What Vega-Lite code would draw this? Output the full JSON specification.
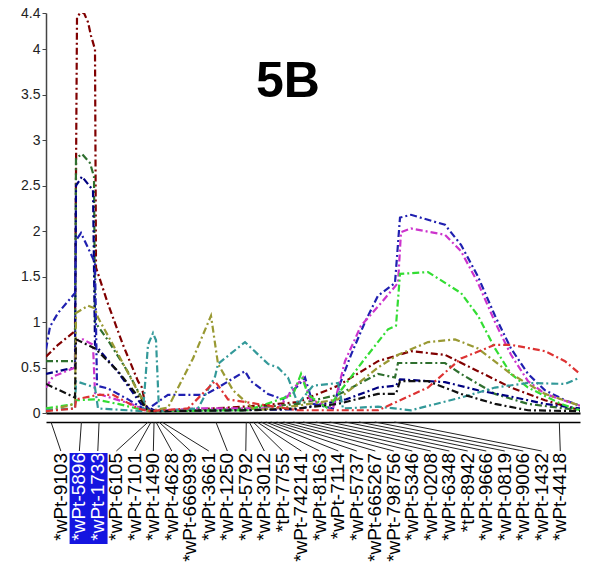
{
  "$schema": "https://vega.github.io/schema/vega-lite/v6.json",
  "background": "white",
  "padding": {"left": 20, "top": 6, "right": 5, "bottom": 2},
  "config": {"view": {"stroke": null}},
  "spacing": 1,
  "datasets": {
    "curves": [
      {"series": "A", "pos": 0, "lod": 0.62}, {"series": "A", "pos": 12, "lod": 0.75}, {"series": "A", "pos": 29, "lod": 0.9}, {"series": "A", "pos": 31, "lod": 4.35}, {"series": "A", "pos": 34, "lod": 4.4}, {"series": "A", "pos": 38, "lod": 4.4}, {"series": "A", "pos": 42, "lod": 4.3}, {"series": "A", "pos": 45, "lod": 4.15}, {"series": "A", "pos": 49, "lod": 4.0}, {"series": "A", "pos": 50, "lod": 1.6}, {"series": "A", "pos": 62, "lod": 1.2}, {"series": "A", "pos": 77, "lod": 0.75}, {"series": "A", "pos": 92, "lod": 0.35}, {"series": "A", "pos": 96, "lod": 0.28}, {"series": "A", "pos": 99, "lod": 0.1}, {"series": "A", "pos": 104, "lod": 0.02}, {"series": "A", "pos": 152, "lod": 0.04}, {"series": "A", "pos": 212, "lod": 0.08}, {"series": "A", "pos": 252, "lod": 0.12}, {"series": "A", "pos": 292, "lod": 0.3}, {"series": "A", "pos": 332, "lod": 0.57}, {"series": "A", "pos": 365, "lod": 0.68}, {"series": "A", "pos": 399, "lod": 0.64}, {"series": "A", "pos": 432, "lod": 0.46}, {"series": "A", "pos": 465, "lod": 0.28}, {"series": "A", "pos": 499, "lod": 0.14}, {"series": "A", "pos": 534, "lod": 0.03},

      {"series": "B", "pos": 0, "lod": 0.57}, {"series": "B", "pos": 29, "lod": 0.57}, {"series": "B", "pos": 30, "lod": 2.8}, {"series": "B", "pos": 36, "lod": 2.85}, {"series": "B", "pos": 44, "lod": 2.75}, {"series": "B", "pos": 48, "lod": 2.6}, {"series": "B", "pos": 49, "lod": 1.0}, {"series": "B", "pos": 62, "lod": 0.8}, {"series": "B", "pos": 82, "lod": 0.45}, {"series": "B", "pos": 102, "lod": 0.03}, {"series": "B", "pos": 152, "lod": 0.03}, {"series": "B", "pos": 202, "lod": 0.05}, {"series": "B", "pos": 252, "lod": 0.1}, {"series": "B", "pos": 292, "lod": 0.2}, {"series": "B", "pos": 332, "lod": 0.43}, {"series": "B", "pos": 349, "lod": 0.39}, {"series": "B", "pos": 352, "lod": 0.55}, {"series": "B", "pos": 399, "lod": 0.55}, {"series": "B", "pos": 415, "lod": 0.43}, {"series": "B", "pos": 449, "lod": 0.21}, {"series": "B", "pos": 482, "lod": 0.1}, {"series": "B", "pos": 534, "lod": 0.03},

      {"series": "C", "pos": 0, "lod": 0.43}, {"series": "C", "pos": 29, "lod": 0.5}, {"series": "C", "pos": 30, "lod": 2.5}, {"series": "C", "pos": 36, "lod": 2.6}, {"series": "C", "pos": 47, "lod": 2.45}, {"series": "C", "pos": 49, "lod": 0.75}, {"series": "C", "pos": 72, "lod": 0.45}, {"series": "C", "pos": 95, "lod": 0.1}, {"series": "C", "pos": 110, "lod": 0.02}, {"series": "C", "pos": 250, "lod": 0.04}, {"series": "C", "pos": 300, "lod": 0.15}, {"series": "C", "pos": 332, "lod": 0.28}, {"series": "C", "pos": 350, "lod": 0.3}, {"series": "C", "pos": 354, "lod": 0.37}, {"series": "C", "pos": 399, "lod": 0.34}, {"series": "C", "pos": 432, "lod": 0.25}, {"series": "C", "pos": 465, "lod": 0.18}, {"series": "C", "pos": 499, "lod": 0.1}, {"series": "C", "pos": 534, "lod": 0.05},

      {"series": "D", "pos": 0, "lod": 0.7}, {"series": "D", "pos": 4, "lod": 0.95}, {"series": "D", "pos": 12, "lod": 1.1}, {"series": "D", "pos": 29, "lod": 1.32}, {"series": "D", "pos": 30, "lod": 1.9}, {"series": "D", "pos": 35, "lod": 1.98}, {"series": "D", "pos": 47, "lod": 1.7}, {"series": "D", "pos": 49, "lod": 1.65}, {"series": "D", "pos": 51, "lod": 0.3}, {"series": "D", "pos": 62, "lod": 0.27}, {"series": "D", "pos": 82, "lod": 0.15}, {"series": "D", "pos": 100, "lod": 0.03}, {"series": "D", "pos": 122, "lod": 0.2}, {"series": "D", "pos": 159, "lod": 0.2}, {"series": "D", "pos": 172, "lod": 0.28}, {"series": "D", "pos": 199, "lod": 0.46}, {"series": "D", "pos": 205, "lod": 0.35}, {"series": "D", "pos": 222, "lod": 0.21}, {"series": "D", "pos": 237, "lod": 0.15}, {"series": "D", "pos": 252, "lod": 0.3}, {"series": "D", "pos": 259, "lod": 0.39}, {"series": "D", "pos": 267, "lod": 0.1}, {"series": "D", "pos": 287, "lod": 0.05}, {"series": "D", "pos": 294, "lod": 0.32}, {"series": "D", "pos": 305, "lod": 0.64}, {"series": "D", "pos": 319, "lod": 1.0}, {"series": "D", "pos": 332, "lod": 1.29}, {"series": "D", "pos": 349, "lod": 1.43}, {"series": "D", "pos": 354, "lod": 2.15}, {"series": "D", "pos": 365, "lod": 2.18}, {"series": "D", "pos": 399, "lod": 2.07}, {"series": "D", "pos": 415, "lod": 1.85}, {"series": "D", "pos": 432, "lod": 1.5}, {"series": "D", "pos": 449, "lod": 1.07}, {"series": "D", "pos": 465, "lod": 0.71}, {"series": "D", "pos": 482, "lod": 0.43}, {"series": "D", "pos": 499, "lod": 0.25}, {"series": "D", "pos": 519, "lod": 0.14}, {"series": "D", "pos": 534, "lod": 0.08},

      {"series": "E", "pos": 0, "lod": 0.28}, {"series": "E", "pos": 7, "lod": 0.4}, {"series": "E", "pos": 29, "lod": 0.5}, {"series": "E", "pos": 30, "lod": 0.8}, {"series": "E", "pos": 37, "lod": 0.81}, {"series": "E", "pos": 47, "lod": 0.75}, {"series": "E", "pos": 49, "lod": 0.22}, {"series": "E", "pos": 85, "lod": 0.1}, {"series": "E", "pos": 102, "lod": 0.02}, {"series": "E", "pos": 152, "lod": 0.05}, {"series": "E", "pos": 232, "lod": 0.05}, {"series": "E", "pos": 250, "lod": 0.3}, {"series": "E", "pos": 257, "lod": 0.39}, {"series": "E", "pos": 264, "lod": 0.15}, {"series": "E", "pos": 287, "lod": 0.05}, {"series": "E", "pos": 294, "lod": 0.35}, {"series": "E", "pos": 299, "lod": 0.57}, {"series": "E", "pos": 315, "lod": 0.96}, {"series": "E", "pos": 335, "lod": 1.21}, {"series": "E", "pos": 352, "lod": 1.43}, {"series": "E", "pos": 355, "lod": 1.99}, {"series": "E", "pos": 365, "lod": 2.03}, {"series": "E", "pos": 399, "lod": 1.96}, {"series": "E", "pos": 415, "lod": 1.78}, {"series": "E", "pos": 432, "lod": 1.43}, {"series": "E", "pos": 449, "lod": 1.0}, {"series": "E", "pos": 465, "lod": 0.64}, {"series": "E", "pos": 482, "lod": 0.35}, {"series": "E", "pos": 499, "lod": 0.21}, {"series": "E", "pos": 534, "lod": 0.08},

      {"series": "F", "pos": 0, "lod": 0.05}, {"series": "F", "pos": 29, "lod": 0.1}, {"series": "F", "pos": 30, "lod": 0.14}, {"series": "F", "pos": 49, "lod": 0.15}, {"series": "F", "pos": 72, "lod": 0.1}, {"series": "F", "pos": 102, "lod": 0.02}, {"series": "F", "pos": 202, "lod": 0.03}, {"series": "F", "pos": 247, "lod": 0.2}, {"series": "F", "pos": 255, "lod": 0.43}, {"series": "F", "pos": 262, "lod": 0.2}, {"series": "F", "pos": 282, "lod": 0.05}, {"series": "F", "pos": 295, "lod": 0.25}, {"series": "F", "pos": 319, "lod": 0.6}, {"series": "F", "pos": 342, "lod": 0.92}, {"series": "F", "pos": 350, "lod": 0.96}, {"series": "F", "pos": 354, "lod": 1.53}, {"series": "F", "pos": 382, "lod": 1.55}, {"series": "F", "pos": 415, "lod": 1.32}, {"series": "F", "pos": 432, "lod": 1.07}, {"series": "F", "pos": 449, "lod": 0.71}, {"series": "F", "pos": 465, "lod": 0.43}, {"series": "F", "pos": 482, "lod": 0.28}, {"series": "F", "pos": 515, "lod": 0.1}, {"series": "F", "pos": 534, "lod": 0.03},

      {"series": "G", "pos": 0, "lod": 0.02}, {"series": "G", "pos": 29, "lod": 0.1}, {"series": "G", "pos": 30, "lod": 1.1}, {"series": "G", "pos": 42, "lod": 1.18}, {"series": "G", "pos": 49, "lod": 1.15}, {"series": "G", "pos": 52, "lod": 1.05}, {"series": "G", "pos": 72, "lod": 0.65}, {"series": "G", "pos": 95, "lod": 0.17}, {"series": "G", "pos": 102, "lod": 0.02}, {"series": "G", "pos": 122, "lod": 0.06}, {"series": "G", "pos": 147, "lod": 0.6}, {"series": "G", "pos": 165, "lod": 1.07}, {"series": "G", "pos": 172, "lod": 0.54}, {"series": "G", "pos": 187, "lod": 0.25}, {"series": "G", "pos": 209, "lod": 0.03}, {"series": "G", "pos": 252, "lod": 0.08}, {"series": "G", "pos": 292, "lod": 0.15}, {"series": "G", "pos": 332, "lod": 0.5}, {"series": "G", "pos": 352, "lod": 0.64}, {"series": "G", "pos": 382, "lod": 0.78}, {"series": "G", "pos": 409, "lod": 0.81}, {"series": "G", "pos": 432, "lod": 0.71}, {"series": "G", "pos": 465, "lod": 0.43}, {"series": "G", "pos": 499, "lod": 0.21}, {"series": "G", "pos": 534, "lod": 0.08},

      {"series": "H", "pos": 0, "lod": 0.03}, {"series": "H", "pos": 29, "lod": 0.05}, {"series": "H", "pos": 30, "lod": 0.35}, {"series": "H", "pos": 49, "lod": 0.28}, {"series": "H", "pos": 52, "lod": 0.05}, {"series": "H", "pos": 97, "lod": 0.02}, {"series": "H", "pos": 102, "lod": 0.75}, {"series": "H", "pos": 107, "lod": 0.88}, {"series": "H", "pos": 110, "lod": 0.8}, {"series": "H", "pos": 113, "lod": 0.02}, {"series": "H", "pos": 152, "lod": 0.05}, {"series": "H", "pos": 169, "lod": 0.4}, {"series": "H", "pos": 172, "lod": 0.54}, {"series": "H", "pos": 199, "lod": 0.78}, {"series": "H", "pos": 222, "lod": 0.54}, {"series": "H", "pos": 232, "lod": 0.5}, {"series": "H", "pos": 242, "lod": 0.39}, {"series": "H", "pos": 252, "lod": 0.1}, {"series": "H", "pos": 267, "lod": 0.3}, {"series": "H", "pos": 292, "lod": 0.33}, {"series": "H", "pos": 297, "lod": 0.05}, {"series": "H", "pos": 332, "lod": 0.07}, {"series": "H", "pos": 365, "lod": 0.03}, {"series": "H", "pos": 415, "lod": 0.17}, {"series": "H", "pos": 449, "lod": 0.28}, {"series": "H", "pos": 482, "lod": 0.33}, {"series": "H", "pos": 519, "lod": 0.32}, {"series": "H", "pos": 534, "lod": 0.39},

      {"series": "I", "pos": 0, "lod": 0.32}, {"series": "I", "pos": 29, "lod": 0.17}, {"series": "I", "pos": 30, "lod": 0.81}, {"series": "I", "pos": 49, "lod": 0.71}, {"series": "I", "pos": 72, "lod": 0.46}, {"series": "I", "pos": 95, "lod": 0.14}, {"series": "I", "pos": 102, "lod": 0.02}, {"series": "I", "pos": 202, "lod": 0.03}, {"series": "I", "pos": 252, "lod": 0.05}, {"series": "I", "pos": 292, "lod": 0.1}, {"series": "I", "pos": 332, "lod": 0.21}, {"series": "I", "pos": 350, "lod": 0.21}, {"series": "I", "pos": 354, "lod": 0.35}, {"series": "I", "pos": 382, "lod": 0.35}, {"series": "I", "pos": 415, "lod": 0.21}, {"series": "I", "pos": 449, "lod": 0.1}, {"series": "I", "pos": 482, "lod": 0.03}, {"series": "I", "pos": 534, "lod": 0.02},

      {"series": "J", "pos": 0, "lod": 0.02}, {"series": "J", "pos": 29, "lod": 0.05}, {"series": "J", "pos": 30, "lod": 0.15}, {"series": "J", "pos": 52, "lod": 0.2}, {"series": "J", "pos": 67, "lod": 0.2}, {"series": "J", "pos": 92, "lod": 0.05}, {"series": "J", "pos": 102, "lod": 0.02}, {"series": "J", "pos": 142, "lod": 0.05}, {"series": "J", "pos": 169, "lod": 0.35}, {"series": "J", "pos": 182, "lod": 0.15}, {"series": "J", "pos": 252, "lod": 0.03}, {"series": "J", "pos": 332, "lod": 0.03}, {"series": "J", "pos": 382, "lod": 0.28}, {"series": "J", "pos": 415, "lod": 0.6}, {"series": "J", "pos": 449, "lod": 0.75}, {"series": "J", "pos": 465, "lod": 0.75}, {"series": "J", "pos": 499, "lod": 0.68}, {"series": "J", "pos": 519, "lod": 0.57}, {"series": "J", "pos": 534, "lod": 0.43}
    ],
    "markers": [
      {"marker": "*wPt-9103", "pos": 0, "label_pos": 10, "hl": false},
      {"marker": "*wPt-5896", "pos": 31, "label_pos": 28.9, "hl": true},
      {"marker": "*wPt-1733", "pos": 49, "label_pos": 47.7, "hl": true},
      {"marker": "*wPt-6105", "pos": 99, "label_pos": 66.6, "hl": false},
      {"marker": "*wPt-7101", "pos": 102, "label_pos": 85.4, "hl": false},
      {"marker": "*wPt-1490", "pos": 105, "label_pos": 104.3, "hl": false},
      {"marker": "*wPt-4628", "pos": 107, "label_pos": 123.1, "hl": false},
      {"marker": "*wPt-666939", "pos": 110, "label_pos": 142, "hl": false},
      {"marker": "*wPt-3661", "pos": 113, "label_pos": 160.8, "hl": false},
      {"marker": "*wPt-1250", "pos": 168, "label_pos": 179.7, "hl": false},
      {"marker": "*wPt-5792", "pos": 199, "label_pos": 198.5, "hl": false},
      {"marker": "*wPt-3012", "pos": 202, "label_pos": 217.4, "hl": false},
      {"marker": "*tPt-7755", "pos": 206, "label_pos": 236.2, "hl": false},
      {"marker": "*wPt-742141", "pos": 210, "label_pos": 255.1, "hl": false},
      {"marker": "*wPt-8163", "pos": 214, "label_pos": 273.9, "hl": false},
      {"marker": "*wPt-7114", "pos": 219, "label_pos": 292.8, "hl": false},
      {"marker": "*wPt-5737", "pos": 224, "label_pos": 311.6, "hl": false},
      {"marker": "*wPt-665267", "pos": 230, "label_pos": 330.5, "hl": false},
      {"marker": "*wPt-798756", "pos": 237, "label_pos": 349.3, "hl": false},
      {"marker": "*wPt-5346", "pos": 247, "label_pos": 368.2, "hl": false},
      {"marker": "*wPt-0208", "pos": 257, "label_pos": 387, "hl": false},
      {"marker": "*wPt-6348", "pos": 270, "label_pos": 405.9, "hl": false},
      {"marker": "*tPt-8942", "pos": 284, "label_pos": 424.7, "hl": false},
      {"marker": "*wPt-9666", "pos": 300, "label_pos": 443.6, "hl": false},
      {"marker": "*wPt-0819", "pos": 314, "label_pos": 462.4, "hl": false},
      {"marker": "*wPt-9006", "pos": 330, "label_pos": 481.3, "hl": false},
      {"marker": "*wPt-1432", "pos": 350, "label_pos": 500.1, "hl": false},
      {"marker": "*wPt-4418", "pos": 518, "label_pos": 519, "hl": false}
    ]
  },
  "vconcat": [
    {
      "width": 534,
      "height": 400,
      "layer": [
        {
          "data": {"name": "curves"},
          "mark": {"type": "line", "strokeWidth": 2.2, "strokeDash": [7, 3, 2, 3], "clip": true},
          "encoding": {
            "x": {"field": "pos", "type": "quantitative", "scale": {"domain": [0, 534], "nice": false},
                  "axis": {"labels": false, "ticks": false, "title": null, "grid": false, "domainColor": "black", "domainWidth": 2}},
            "y": {"field": "lod", "type": "quantitative", "scale": {"domain": [0, 4.4], "nice": false},
                  "axis": {"values": [0, 0.5, 1, 1.5, 2, 2.5, 3, 3.5, 4, 4.4], "labelExpr": "'' + datum.value", "title": null, "grid": false,
                           "domainColor": "#444", "domainWidth": 1.5, "tickColor": "#444", "tickSize": 4,
                           "labelFont": "Liberation Sans", "labelFontSize": 14, "labelColor": "#222"}},
            "color": {"field": "series", "type": "nominal", "legend": null,
                      "scale": {"domain": ["A", "B", "C", "D", "E", "F", "G", "H", "I", "J"],
                                "range": ["#800000", "#2f6f2f", "#000080", "#2020b0", "#cc33cc", "#33dd33", "#999933", "#339999", "#111111", "#dd3333"]}},
            "detail": {"field": "series"}
          }
        },
        {
          "data": {"values": [{"t": "5B"}]},
          "mark": {"type": "text", "font": "Liberation Sans", "fontWeight": "bold", "fontSize": 50, "align": "center", "baseline": "middle", "color": "black"},
          "encoding": {
            "x": {"datum": 242, "type": "quantitative"},
            "y": {"datum": 3.64, "type": "quantitative"},
            "text": {"field": "t"}
          }
        }
      ]
    },
    {
      "width": 534,
      "height": 140,
      "data": {"name": "markers"},
      "layer": [
        {
          "transform": [{"filter": "datum.hl"}],
          "mark": {"type": "bar", "width": 19.5, "color": "#1515e0"},
          "encoding": {
            "x": {"field": "label_pos", "type": "quantitative", "scale": {"domain": [0, 534], "nice": false},
                  "axis": {"orient": "top", "labels": false, "ticks": false, "title": null, "grid": false, "domainColor": "black", "domainWidth": 1.5}},
            "y": {"datum": 31, "type": "quantitative", "scale": {"domain": [0, 140], "reverse": true, "nice": false}, "axis": null},
            "y2": {"datum": 122}
          }
        },
        {
          "mark": {"type": "rule", "color": "#222", "strokeWidth": 1},
          "encoding": {
            "x": {"field": "pos", "type": "quantitative"},
            "x2": {"field": "label_pos"},
            "y": {"datum": 0, "type": "quantitative"},
            "y2": {"datum": 29}
          }
        },
        {
          "mark": {"type": "text", "angle": 270, "align": "right", "baseline": "middle", "font": "Liberation Sans", "fontSize": 19},
          "encoding": {
            "x": {"field": "label_pos", "type": "quantitative"},
            "y": {"datum": 31, "type": "quantitative"},
            "text": {"field": "marker"},
            "color": {"condition": {"test": "datum.hl", "value": "white"}, "value": "black"}
          }
        }
      ]
    }
  ]
}
